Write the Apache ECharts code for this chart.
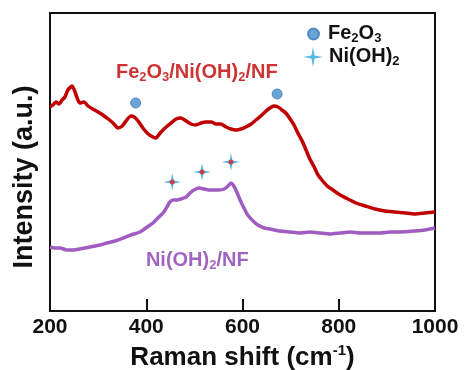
<!DOCTYPE html>
<html><head><meta charset="utf-8">
<script src="https://cdn.jsdelivr.net/npm/echarts@6/dist/echarts.min.js"></script>
<style>html,body{margin:0;padding:0;background:#fff}#c{width:464px;height:370px}</style>
</head><body><div id="c"></div>
<script>
// Raman shift (cm-1) and intensity (a.u., arbitrary offset units)
const redX = [200,206,212,219,225,231,237,246,252,258,262,271,279,289,300,310,321,331,341,350,358,368,375,383,393,404,414,420,429,439,449,462,472,483,493,503,514,524,535,545,555,566,576,587,597,607,618,628,638,649,657,665,674,682,690,699,707,715,724,732,740,749,757,765,776,788,803,819,836,855,875,896,917,938,958,979,1000];
const redY = [204,206,209,207,211,214,221,225,219,211,208,209,205,202,199,196,192,188,183,185,190,195,194,190,183,177,174,173,178,183,187,192,193,190,187,186,188,189,189,187,187,184,182,181,182,184,187,191,195,200,203,205,204,201,198,192,186,178,170,161,152,144,136,131,125,121,116,112,108,105,102,100,99,98,97,98,99];
const purX = [200,210,221,235,248,262,283,304,318,335,352,368,387,402,414,424,435,443,449,456,464,472,483,491,499,510,520,530,541,551,562,570,576,582,589,595,603,611,622,632,645,657,678,699,719,740,761,782,803,824,844,865,886,907,927,958,979,1000];
const purY = [64,63,63,61,61,62,64,66,68,70,73,76,79,84,88,93,98,104,109,111,111,112,114,118,121,123,122,121,121,121,122,125,128,125,118,111,103,96,90,86,83,82,80,79,78,79,78,77,78,79,78,78,78,79,79,80,81,83];
const fe2o3X = [378, 672];
const fe2o3Y = [208, 217];
const niohX = [454, 516, 576];
const niohY = [129, 139, 149];
const xTicks = [200, 400, 600, 800, 1000];
const labelRed = {x: 505, y: 238, text: '{r|Fe}{rs|2}{r|O}{rs|3}{r|/Ni(OH)}{rs|2}{r|/NF}'};
const labelPur = {x: 506, y: 50, text: '{p|Ni(OH)}{ps|2}{p|/NF}'};

const zip = (a, b) => a.map((v, i) => [v, b[i]]);
const FONT = 'Liberation Sans, Arial, sans-serif';
const RED = '#c00000', PUR = '#a05cc0', PURT = '#8a3fb0', BLUE = '#4a8fd0', STAR = '#29a8e0';
const starPath = 'path://M0,-10 L1.6,-1.6 L10,0 L1.6,1.6 L0,10 L-1.6,1.6 L-10,0 L-1.6,-1.6 Z';

function sub(color, size) {
  return {
    m: {fontFamily: FONT, fontWeight: 'bold', fontSize: size, color, verticalAlign: 'top', lineHeight: size + 2, padding: [0, 0, 2, 0]},
    s: {fontFamily: FONT, fontWeight: 'bold', fontSize: Math.round(size * 0.65), color, verticalAlign: 'bottom', lineHeight: Math.round(size * 0.65)}
  };
}
function richFor(prefixMain, prefixSub, color, size) {
  const r = sub(color, size);
  return {[prefixMain]: r.m, [prefixSub]: r.s};
}
const legendRich = richFor('b', 's', '#111', 20);
const legendFmt = n => n === 'Fe2O3' ? '{b|Fe}{s|2}{b|O}{s|3}' : '{b|Ni(OH)}{s|2}';

const chart = echarts.init(document.getElementById('c'), null, {renderer: 'canvas'});
chart.setOption({
  animation: false,
  backgroundColor: '#fff',
  grid: {left: 50, right: 29, top: 13, bottom: 59, show: true, borderColor: '#111', borderWidth: 2,
         containLabel: false, outerBoundsMode: 'none'},
  legend: [
    {left: 302, top: 18, itemWidth: 11, itemHeight: 11, data: ['Fe2O3'], formatter: legendFmt,
     itemGap: 0, textStyle: {rich: legendRich, padding: [0, 0, 0, 4]}},
    {left: 298, top: 41, itemWidth: 20, itemHeight: 20, data: ['Ni(OH)2'], formatter: legendFmt,
     itemGap: 0, textStyle: {rich: legendRich, padding: [0, 0, 0, 1]}}
  ],
  xAxis: {
    type: 'value', min: 200, max: 1000, interval: 200,
    name: '{n|Raman shift (cm}{u|-1}{n|)}', nameLocation: 'middle', nameGap: 30,
    nameTextStyle: {rich: {
      n: {fontFamily: FONT, fontWeight: 'bold', fontSize: 26, color: '#111', verticalAlign: 'bottom', lineHeight: 28},
      u: {fontFamily: FONT, fontWeight: 'bold', fontSize: 15, color: '#111', verticalAlign: 'top', lineHeight: 15}
    }},
    axisLine: {lineStyle: {color: '#111', width: 2}},
    axisTick: {inside: true, length: 12, lineStyle: {color: '#111', width: 2}},
    axisLabel: {fontFamily: FONT, fontWeight: 'bold', fontSize: 21, color: '#111', margin: 6,
      formatter: v => xTicks.includes(v) ? String(v) : ''},
    splitLine: {show: false}
  },
  yAxis: {
    type: 'value', min: 0, max: 298,
    name: 'Intensity (a.u.)', nameLocation: 'middle', nameGap: 12,
    nameTextStyle: {fontFamily: FONT, fontWeight: 'bold', fontSize: 27, color: '#111', padding: [0, 30, 0, 0]},
    axisLine: {show: true, lineStyle: {color: '#111', width: 2}},
    axisTick: {show: false}, axisLabel: {show: false}, splitLine: {show: false}
  },
  series: [
    {name: 'Fe2O3/Ni(OH)2/NF', type: 'line', data: zip(redX, redY), showSymbol: false, smooth: 0.2,
     lineStyle: {color: RED, width: 3.5}, z: 3},
    {name: 'Ni(OH)2/NF', type: 'line', data: zip(purX, purY), showSymbol: false, smooth: 0.2,
     lineStyle: {color: PUR, width: 3.5}, z: 3},
    {name: 'Fe2O3', type: 'scatter', data: zip(fe2o3X, fe2o3Y), symbol: 'circle', symbolSize: 10,
     itemStyle: {color: BLUE, borderColor: '#3a78b8', borderWidth: 1}, z: 5},
    {name: 'Ni(OH)2', type: 'scatter', data: zip(niohX, niohY), symbol: starPath, symbolSize: 18,
     itemStyle: {color: STAR}, z: 5},
    {name: 'starCenter', type: 'scatter', data: zip(niohX, niohY), symbol: 'circle', symbolSize: 5,
     itemStyle: {color: '#e0202a'}, z: 6, silent: true},
    {name: 'labels', type: 'scatter', symbolSize: 0, silent: true, z: 7,
     data: [
       {value: [labelRed.x, labelRed.y], label: {formatter: labelRed.text}},
       {value: [labelPur.x, labelPur.y], label: {formatter: labelPur.text}}
     ],
     label: {show: true, position: 'inside', rich: Object.assign({},
       richFor('r', 'rs', RED, 20), richFor('p', 'ps', PURT, 20))}}
  ]
});
</script></body></html>
